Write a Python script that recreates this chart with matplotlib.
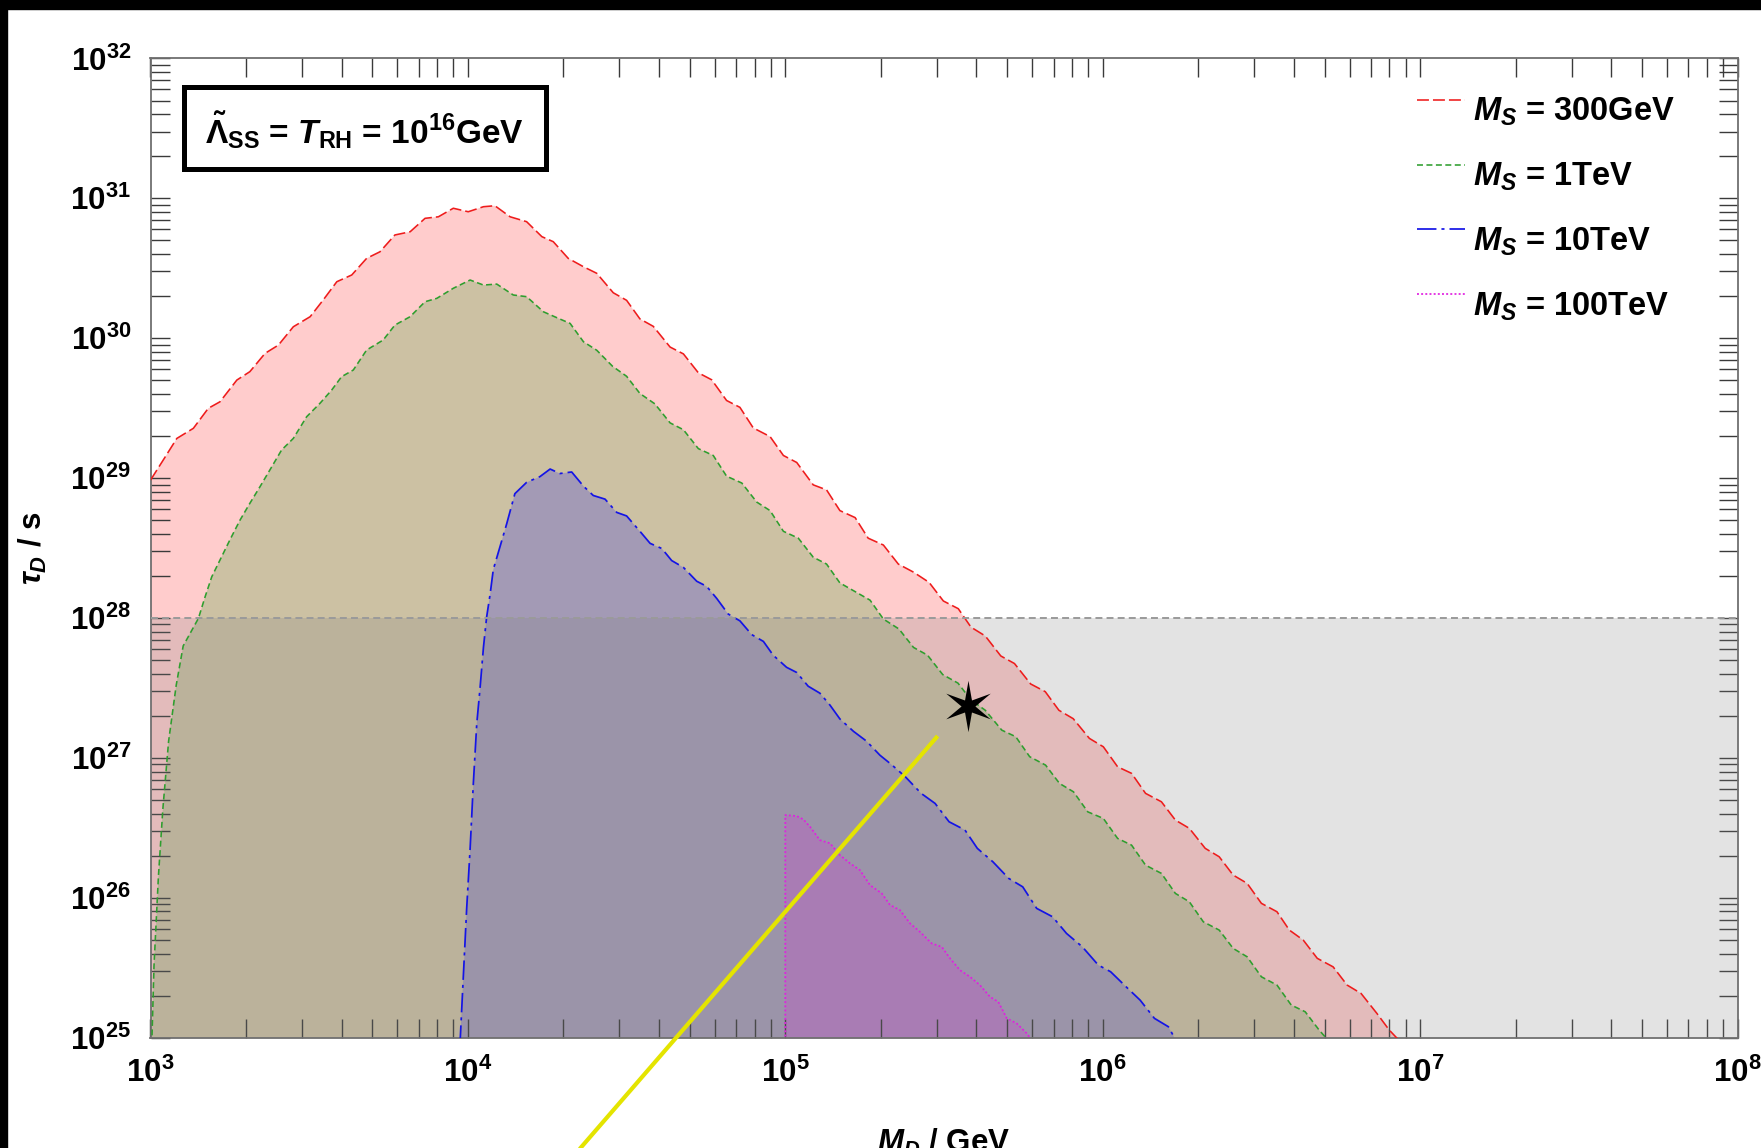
import numpy as np
import matplotlib
matplotlib.use("Agg")
import matplotlib.pyplot as plt
from matplotlib.patches import Rectangle
from matplotlib.lines import Line2D
from matplotlib.ticker import FixedLocator, LogLocator, FuncFormatter, NullFormatter

plt.rcParams.update({
    "font.family": "Liberation Sans",
    "font.weight": "bold",
    "mathtext.fontset": "custom",
    "mathtext.rm": "Liberation Sans:bold",
    "mathtext.it": "Liberation Sans:bold:italic",
    "mathtext.bf": "Liberation Sans:bold",
    "mathtext.sf": "Liberation Sans:bold",
    "lines.scale_dashes": False,
})

# ---- boundaries: log10(M_D / GeV) and log10(tau_D / s) -------------------
red_logM = [3.000, 3.040, 3.083, 3.135, 3.182, 3.219, 3.272, 3.313, 3.361, 3.403,
            3.450, 3.503, 3.544, 3.587, 3.634, 3.681, 3.723, 3.770, 3.818, 3.865,
            3.907, 3.954, 4.001, 4.049, 4.085, 4.133, 4.185, 4.233, 4.269, 4.316,
            4.364, 4.406, 4.458, 4.500, 4.542, 4.584, 4.637, 4.679, 4.726, 4.768,
            4.815, 4.857, 4.899, 4.952, 4.994, 5.036, 5.088, 5.130, 5.172, 5.220,
            5.261, 5.309, 5.356, 5.404, 5.453, 5.498, 5.545, 5.585, 5.630, 5.679,
            5.722, 5.773, 5.819, 5.862, 5.907, 5.958, 6.002, 6.047, 6.091, 6.135,
            6.185, 6.229, 6.273, 6.323, 6.367, 6.411, 6.455, 6.500, 6.549, 6.588,
            6.632, 6.676, 6.726, 6.770, 6.814, 6.864, 6.903, 6.947]
red_logtau = [28.986, 29.129, 29.284, 29.356, 29.499, 29.546, 29.701, 29.761, 29.892, 29.951,
              30.082, 30.154, 30.273, 30.404, 30.452, 30.571, 30.618, 30.738, 30.761, 30.857,
              30.868, 30.929, 30.904, 30.940, 30.947, 30.868, 30.833, 30.726, 30.690, 30.571,
              30.511, 30.464, 30.325, 30.271, 30.138, 30.085, 29.937, 29.888, 29.753, 29.703,
              29.555, 29.506, 29.359, 29.297, 29.162, 29.112, 28.952, 28.916, 28.768, 28.718,
              28.571, 28.522, 28.386, 28.328, 28.255, 28.122, 28.067, 27.935, 27.872, 27.729,
              27.675, 27.529, 27.474, 27.341, 27.281, 27.140, 27.080, 26.937, 26.890, 26.747,
              26.687, 26.556, 26.497, 26.354, 26.294, 26.163, 26.104, 25.961, 25.901, 25.770,
              25.698, 25.568, 25.507, 25.377, 25.317, 25.174, 25.055, 24.950]

green_logM = [3.004, 3.011, 3.025, 3.039, 3.057, 3.081, 3.103, 3.151, 3.172, 3.193,
              3.219, 3.250, 3.282, 3.313, 3.345, 3.376, 3.413, 3.450, 3.492, 3.534,
              3.571, 3.602, 3.639, 3.681, 3.733, 3.770, 3.818, 3.865, 3.902, 3.954,
              4.007, 4.049, 4.091, 4.143, 4.185, 4.238, 4.285, 4.322, 4.364, 4.406,
              4.456, 4.500, 4.542, 4.589, 4.637, 4.679, 4.726, 4.773, 4.815, 4.863,
              4.910, 4.952, 4.994, 5.041, 5.088, 5.130, 5.172, 5.220, 5.267, 5.309,
              5.358, 5.404, 5.448, 5.496, 5.544, 5.585, 5.630, 5.682, 5.726, 5.770,
              5.820, 5.864, 5.908, 5.953, 6.002, 6.047, 6.091, 6.135, 6.185, 6.229,
              6.273, 6.317, 6.367, 6.411, 6.455, 6.500, 6.549, 6.594, 6.638, 6.682,
              6.715]
green_logtau = [24.950, 25.513, 26.156, 26.638, 27.119, 27.520, 27.801, 27.998, 28.152, 28.295,
                28.415, 28.558, 28.700, 28.820, 28.939, 29.058, 29.201, 29.284, 29.439, 29.535,
                29.630, 29.725, 29.773, 29.916, 29.987, 30.094, 30.154, 30.261, 30.285, 30.357,
                30.416, 30.380, 30.387, 30.309, 30.297, 30.189, 30.142, 30.106, 29.975, 29.914,
                29.799, 29.728, 29.605, 29.531, 29.395, 29.346, 29.211, 29.162, 29.014, 28.965,
                28.829, 28.768, 28.620, 28.571, 28.435, 28.386, 28.251, 28.189, 28.128, 27.993,
                27.922, 27.790, 27.735, 27.596, 27.535, 27.415, 27.341, 27.199, 27.152, 27.009,
                26.949, 26.818, 26.758, 26.615, 26.568, 26.425, 26.377, 26.234, 26.175, 26.032,
                25.972, 25.829, 25.770, 25.639, 25.579, 25.436, 25.377, 25.234, 25.186, 25.055,
                24.970]

blue_logM = [3.975, 3.986, 3.996, 4.007, 4.017, 4.028, 4.038, 4.049, 4.059, 4.070,
             4.080, 4.101, 4.122, 4.148, 4.185, 4.227, 4.259, 4.290, 4.327, 4.364,
             4.395, 4.432, 4.469, 4.500, 4.542, 4.574, 4.611, 4.642, 4.679, 4.721,
             4.752, 4.784, 4.820, 4.857, 4.894, 4.931, 4.962, 5.004, 5.036, 5.072,
             5.109, 5.141, 5.172, 5.215, 5.256, 5.298, 5.336, 5.378, 5.428, 5.472,
             5.516, 5.566, 5.605, 5.654, 5.704, 5.748, 5.792, 5.842, 5.886, 5.936,
             5.986, 6.025, 6.074, 6.118, 6.163, 6.207, 6.231]
blue_logtau = [24.950, 25.457, 25.918, 26.352, 26.813, 27.248, 27.492, 27.791, 28.007, 28.170,
               28.347, 28.509, 28.672, 28.889, 28.970, 29.011, 29.065, 29.033, 29.044, 28.943,
               28.876, 28.850, 28.755, 28.730, 28.620, 28.534, 28.497, 28.411, 28.362, 28.263,
               28.227, 28.140, 28.029, 27.980, 27.882, 27.833, 27.734, 27.648, 27.611, 27.513,
               27.463, 27.377, 27.279, 27.190, 27.120, 27.020, 26.950, 26.866, 26.747, 26.675,
               26.544, 26.485, 26.354, 26.258, 26.139, 26.079, 25.925, 25.865, 25.746, 25.650,
               25.520, 25.472, 25.364, 25.269, 25.139, 25.079, 24.980]

magenta_logM = [5.000, 5.000, 5.036, 5.057, 5.078, 5.109, 5.141, 5.172, 5.204, 5.235,
                5.267, 5.304, 5.330, 5.361, 5.393, 5.424, 5.461, 5.493, 5.519, 5.550,
                5.582, 5.613, 5.645, 5.671, 5.698, 5.729, 5.761, 5.781]
magenta_logtau = [24.950, 26.592, 26.585, 26.561, 26.508, 26.413, 26.390, 26.306, 26.247, 26.199,
                  26.091, 26.032, 25.949, 25.913, 25.818, 25.758, 25.675, 25.650, 25.568, 25.484,
                  25.436, 25.377, 25.293, 25.257, 25.139, 25.103, 25.031, 24.970]

series_labels = [r"$M_S$ = 300GeV", r"$M_S$ = 1TeV", r"$M_S$ = 10TeV", r"$M_S$ = 100TeV"]

# lifetime bound and the benchmark point / line
tau_bound = 1e28
star_logM, star_logtau = 5.577, 27.372
yellow_logM = [5.480, 4.300]
yellow_logtau = [27.157, 24.069]

x_ticks_exp = [3, 4, 5, 6, 7, 8]
y_ticks_exp = [25, 26, 27, 28, 29, 30, 31, 32]

# ---- figure -----------------------------------------------------------------
W, H = 1761, 1148
fig = plt.figure(figsize=(W / 100, H / 100), dpi=100)
fig.patch.set_facecolor("white")
ax = fig.add_axes([150.5 / W, 1 - 1037.8 / H, 1587 / W, 979.4 / H])
ax.set_xscale("log")
ax.set_yscale("log")
ax.set_xlim(10.0 ** x_ticks_exp[0], 10.0 ** x_ticks_exp[-1])
ax.set_ylim(10.0 ** y_ticks_exp[0], 10.0 ** y_ticks_exp[-1])

styles = [
    dict(line="#EE1C1C", fill=(1.0, 0.0, 0.0), dashes=(8.6, 2.9), lw=1.15),
    dict(line="#2E9E2E", fill=(0.0, 0.6, 0.0), dashes=(4.3, 2.5), lw=1.15),
    dict(line="#1414E6", fill=(0.0, 0.0, 1.0), dashes=(14.0, 3.6, 2.2, 3.6), lw=1.25),
    dict(line="#E020E0", fill=(1.0, 0.0, 1.0), dashes=(1.4, 1.6), lw=1.25),
]
curves = [(red_logM, red_logtau), (green_logM, green_logtau),
          (blue_logM, blue_logtau), (magenta_logM, magenta_logtau)]

for (lm, lt), st in zip(curves, styles):
    m = np.power(10.0, lm)
    t = np.power(10.0, lt)
    ax.fill_between(m, t, 1e20, color=st["fill"], alpha=0.2, lw=0, zorder=1)
for (lm, lt), st in zip(curves, styles):
    m = np.power(10.0, lm)
    t = np.power(10.0, lt)
    ax.plot(m, t, color=st["line"], lw=st["lw"], dashes=st["dashes"], zorder=3)

# excluded lifetime band
ax.axhspan(10.0 ** y_ticks_exp[0], tau_bound, color=(0.5, 0.5, 0.5), alpha=0.22, lw=0, zorder=2)
ax.axhline(tau_bound, color="#9A9A9A", lw=1.4, dashes=(5.0, 3.0), zorder=3.5)

# yellow line and benchmark star
ax.plot(np.power(10.0, yellow_logM), np.power(10.0, yellow_logtau),
        color="#E4E400", lw=3.0, solid_capstyle="butt", clip_on=False, zorder=4)
ang = np.deg2rad(90 + 30 * np.arange(12))
rad = np.where(np.arange(12) % 2 == 0, 1.0, 0.27)
star_verts = np.column_stack([rad * np.cos(ang), rad * np.sin(ang)])
ax.plot([10.0 ** star_logM], [10.0 ** star_logtau], marker=star_verts, ms=37,
        color="black", mec="black", mew=0, ls="none", zorder=5)

# ---- axes styling -----------------------------------------------------------
ax.xaxis.set_major_locator(FixedLocator([10.0 ** e for e in x_ticks_exp]))
ax.yaxis.set_major_locator(FixedLocator([10.0 ** e for e in y_ticks_exp]))
ax.xaxis.set_minor_locator(LogLocator(base=10, subs=np.arange(2, 10), numticks=50))
ax.yaxis.set_minor_locator(LogLocator(base=10, subs=np.arange(2, 10), numticks=50))
fmt = FuncFormatter(lambda v, p: r"$10^{%d}$" % int(round(np.log10(v))))
ax.xaxis.set_major_formatter(fmt)
ax.yaxis.set_major_formatter(fmt)
ax.xaxis.set_minor_formatter(NullFormatter())
ax.yaxis.set_minor_formatter(NullFormatter())
for which in ("major", "minor"):
    ax.tick_params(axis="both", which=which, direction="in", length=13.5, width=1.0,
                   color="#3A3A3A", top=True, right=True, labelsize=22.5, pad=14)
for s in ax.spines.values():
    s.set_color("#707070")
    s.set_linewidth(1.3)

ax.set_xlabel(r"$M_D$ / GeV", fontsize=22.5, fontweight="bold")
ax.xaxis.set_label_coords(0.5, -0.091)
ax.set_ylabel(r"$\tau_D$ / s", fontsize=22.5, fontweight="bold")
ax.yaxis.set_label_coords(-0.064, 0.5)

# ---- parameter box ------------------------------------------------------------
ax.add_patch(Rectangle((0.0211, 0.8866), 0.2281, 0.0847, transform=ax.transAxes,
                       fill=False, ec="black", lw=3.6, zorder=6, clip_on=False))
ax.text(0.1345, 0.9133, r"$\tilde{\Lambda}_{\mathrm{SS}}$ = $T_{\mathrm{RH}}$ = 10$^{16}$GeV",
        transform=ax.transAxes, ha="center", va="baseline", fontsize=24, zorder=6)

# ---- legend -------------------------------------------------------------------
x0, x1, xt = (1417 - 150.5) / 1587, (1465 - 150.5) / 1587, (1473 - 150.5) / 1587
for i, (lab, st) in enumerate(zip(series_labels, styles)):
    yl = (1037.8 - (100 + 64.7 * i)) / 979.4
    yb = (1037.8 - (121 + 64.7 * i)) / 979.4
    ax.add_line(Line2D([x0, x1], [yl, yl], transform=ax.transAxes, color=st["line"],
                       lw=st["lw"], dashes=st["dashes"], zorder=6))
    ax.text(xt, yb, lab, transform=ax.transAxes, ha="left", va="baseline",
            fontsize=23.5, zorder=6)

# dark border strips along top and left edges
fig.patches.append(Rectangle((0, 1 - 9 / H), 1, 9 / H, transform=fig.transFigure,
                             color="black", zorder=10))
fig.patches.append(Rectangle((0, 0), 7 / W, 1, transform=fig.transFigure,
                             color="black", zorder=10))

fig.savefig("out.png", dpi=100, facecolor="white")
